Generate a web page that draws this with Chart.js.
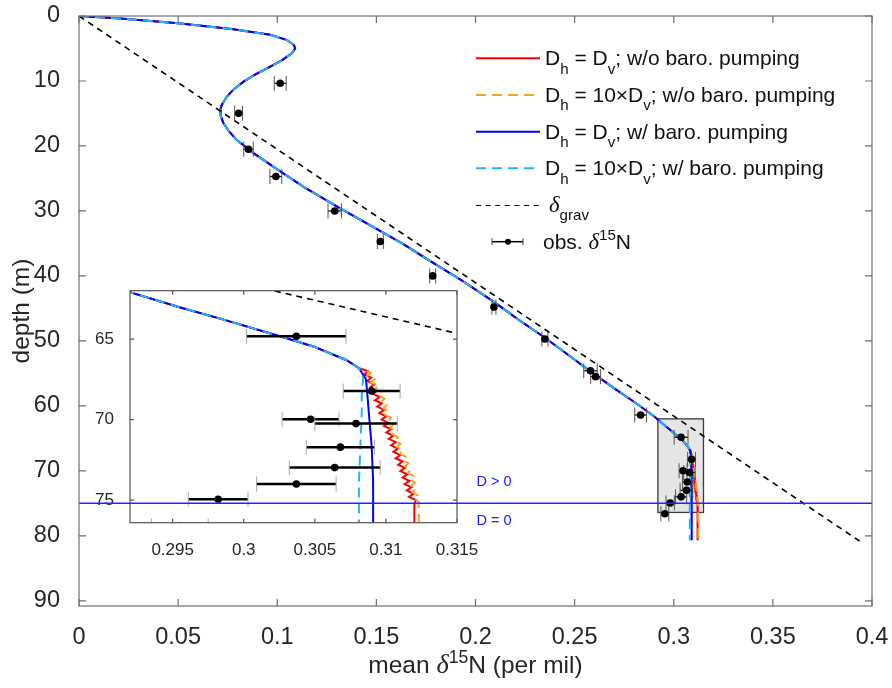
<!DOCTYPE html>
<html>
<head>
<meta charset="utf-8">
<script src="https://cdn.jsdelivr.net/npm/chart.js@4/dist/chart.umd.min.js"></script>
<style>
  html, body { margin: 0; padding: 0; background: #ffffff; }
  #wrap { position: relative; width: 892px; height: 688px; overflow: hidden; }
  #inset { position: absolute; left: 88px; top: 280px; z-index: 1; }
  #main { position: absolute; left: 0; top: 0; z-index: 2; }
</style>
</head>
<body>
<div id="wrap">
  <canvas id="inset" width="400" height="280"></canvas>
  <canvas id="main" width="892" height="688"></canvas>
</div>
<script>
// ---- axes ----
const mainXRange = [0, 0.4];
const mainDepthRange = [0, 90.8];
const mainXTicks = [0, 0.05, 0.1, 0.15, 0.2, 0.25, 0.3, 0.35, 0.4];
const mainXTickLabels = ['0', '0.05', '0.1', '0.15', '0.2', '0.25', '0.3', '0.35', '0.4'];
const mainDepthTicks = [0, 10, 20, 30, 40, 50, 60, 70, 80, 90];

const insetXRange = [0.292, 0.315];
const insetDepthRange = [62, 76.4];
const insetXTicks = [0.295, 0.3, 0.305, 0.31, 0.315];
const insetXTickLabels = ['0.295', '0.3', '0.305', '0.31', '0.315'];
const insetDepthTicks = [65, 70, 75];

// ---- diffusive zone boundary ----
const boundaryDepth = 75;
const zoneLabels = ['D > 0', 'D = 0'];
const zoneLabelDepths = [71.7, 77.7];
const zoneLabelDelta = 0.2005;

// ---- gravitational enrichment [delta, depth] ----
const gravLine = [[0, 0], [0.3937, 80.8]];

// ---- modelled profiles [delta, depth]; all four runs share the upper part ----
const sharedProfile = [
  [0, 0], [0.021, 0.4], [0.05, 1.13], [0.077, 2.0], [0.0965, 2.9], [0.105, 3.7],
  [0.1085, 4.5], [0.109, 5.0], [0.1075, 5.7], [0.1025, 6.8], [0.0965, 7.8],
  [0.089, 9.0], [0.083, 10.1], [0.078, 11.3], [0.0746, 12.4], [0.072, 13.7],
  [0.0712, 14.5], [0.0716, 15.5], [0.0729, 16.5], [0.0755, 17.7], [0.0796, 19.1],
  [0.088, 21.1], [0.1, 23.6], [0.1133, 26.3], [0.13, 29.3], [0.1485, 32.5],
  [0.163, 35.0], [0.177, 37.7], [0.193, 40.7], [0.2093, 44.0], [0.222, 46.8],
  [0.2354, 49.6], [0.247, 52.2], [0.258, 54.7], [0.27, 57.3], [0.281, 59.6],
  [0.2905, 61.7], [0.2956, 63.06], [0.2984, 63.75], [0.3026, 64.84],
  [0.3049, 65.46], [0.3072, 66.3], [0.3081, 66.8]
];
// Dh = Dv, no barometric pumping
const tailRed = [
  [0.30875, 67.0], [0.30846, 67.2], [0.30897, 67.4], [0.30867, 67.6], [0.30918, 67.8],
  [0.3089, 68.0], [0.3094, 68.2], [0.30908, 68.4], [0.30956, 68.6], [0.30923, 68.8],
  [0.30971, 69.0], [0.30939, 69.2], [0.30987, 69.4], [0.30954, 69.6], [0.31002, 69.8],
  [0.3097, 70.0], [0.31018, 70.2], [0.30987, 70.4], [0.31035, 70.6], [0.31003, 70.8],
  [0.31051, 71.0], [0.3102, 71.2], [0.31068, 71.4], [0.31036, 71.6], [0.31084, 71.8],
  [0.31053, 72.0], [0.31101, 72.2], [0.31069, 72.4], [0.31117, 72.6], [0.31086, 72.8],
  [0.31134, 73.0], [0.31102, 73.2], [0.3115, 73.4], [0.31117, 73.6], [0.31165, 73.8],
  [0.31132, 74.0], [0.3118, 74.2], [0.31147, 74.4], [0.31195, 74.6], [0.31162, 74.8],
  [0.3121, 75.0], [0.312, 75.3], [0.312, 80.7]
];
// Dh = 10 x Dv, no barometric pumping
const tailOrange = [
  [0.30894, 67.1], [0.30869, 67.3], [0.30921, 67.5], [0.30897, 67.7], [0.30949, 67.9],
  [0.30925, 68.1], [0.30974, 68.3], [0.3095, 68.5], [0.3099, 68.7], [0.30966, 68.9],
  [0.31005, 69.1], [0.30982, 69.3], [0.31021, 69.5], [0.30997, 69.7], [0.31036, 69.9],
  [0.31013, 70.1], [0.31052, 70.3], [0.3103, 70.5], [0.31069, 70.7], [0.31046, 70.9],
  [0.31085, 71.1], [0.31063, 71.3], [0.31102, 71.5], [0.31079, 71.7], [0.31119, 71.9],
  [0.31098, 72.1], [0.31138, 72.3], [0.31117, 72.5], [0.31157, 72.7], [0.31136, 72.9],
  [0.31176, 73.1], [0.31155, 73.3], [0.31193, 73.5], [0.31168, 73.7], [0.31203, 73.9],
  [0.31178, 74.1], [0.31213, 74.3], [0.31188, 74.5], [0.31223, 74.7], [0.31198, 74.9],
  [0.3123, 75.1], [0.3123, 75.4], [0.3124, 80.7]
];
// Dh = Dv, with barometric pumping
const tailBlue = [[0.3086, 67.5], [0.3087, 68.5], [0.3088, 69.6], [0.309, 71.7], [0.3091, 73.8], [0.3091, 80.7]];
// Dh = 10 x Dv, with barometric pumping
const tailCyan = [[0.3084, 67.4], [0.3083, 68.5], [0.3083, 69.6], [0.3082, 71.7], [0.3081, 74.0], [0.3081, 80.7]];

// ---- observations ----
const obsDelta = [0.1015, 0.0805, 0.0855, 0.0993, 0.129, 0.152, 0.1784, 0.2093, 0.235, 0.258, 0.2606,
  0.2833, 0.3037, 0.309, 0.3047, 0.3079, 0.3068, 0.3064, 0.3037, 0.2982, 0.2955];
const obsDepth = [10.36, 14.97, 20.5, 24.7, 30.0, 34.7, 40.0, 44.8, 49.7, 54.6, 55.5,
  61.4, 64.83, 68.23, 69.98, 70.25, 71.71, 72.98, 74.0, 74.94, 76.6];
const obsErr = [0.003, 0.002, 0.0024, 0.003, 0.0034, 0.0015, 0.0015, 0.001, 0.0015, 0.0034, 0.0025,
  0.003, 0.0035, 0.002, 0.002, 0.0029, 0.0024, 0.0032, 0.0028, 0.0021, 0.002];

// ---- colours ----
const C_RED = '#ff0000', C_ORANGE = '#eea623', C_BLUE = '#0000ff', C_CYAN = '#22b4f4';
const SANS = '"Liberation Sans", Arial, Helvetica, sans-serif';
const SERIF = '"Liberation Serif", "Times New Roman", serif';
const TXT = '#262626';

const pts = arr => arr.map(p => ({ x: p[0], y: p[1] }));

function lineSet(data, color, width, dash, order) {
  return { data: pts(data), borderColor: color, backgroundColor: color, borderWidth: width,
    borderDash: dash, showLine: true, pointRadius: 0, pointHoverRadius: 0, fill: false,
    tension: 0, order: order, clip: 0 };
}

function buildDatasets(withBoundary) {
  const sets = [
    lineSet(gravLine, '#000000', 1.6, [6, 5], 2),
    lineSet(sharedProfile.concat(tailRed), C_RED, 2, [], 6),
    lineSet(sharedProfile.concat(tailOrange), C_ORANGE, 2, [10, 6], 5),
    lineSet(sharedProfile.concat(tailBlue), C_BLUE, 2, [], 4),
    lineSet(sharedProfile.concat(tailCyan), C_CYAN, 2, [10, 6], 3),
    { data: obsDelta.map((v, i) => ({ x: v, y: obsDepth[i] })), showLine: false,
      pointRadius: 3.8, pointHoverRadius: 3.8, pointBackgroundColor: '#000', pointBorderWidth: 0,
      borderColor: '#000', order: 1, clip: 0 }
  ];
  if (withBoundary) {
    sets.push(lineSet([[mainXRange[0], boundaryDepth], [mainXRange[1], boundaryDepth]], '#2323ff', 1.5, [], 0));
  }
  return sets;
}

// axis box with inward ticks on all four sides
function framePlugin(tickLen, color, lw) {
  return {
    id: 'frame',
    afterDatasetsDraw(chart) {
      const { ctx, chartArea: a, scales: { x, y } } = chart;
      ctx.save();
      ctx.strokeStyle = color;
      ctx.lineWidth = lw;
      ctx.strokeRect(a.left, a.top, a.right - a.left, a.bottom - a.top);
      ctx.beginPath();
      x.ticks.forEach(t => {
        const px = x.getPixelForValue(t.value);
        ctx.moveTo(px, a.bottom); ctx.lineTo(px, a.bottom - tickLen);
        ctx.moveTo(px, a.top); ctx.lineTo(px, a.top + tickLen);
      });
      y.ticks.forEach(t => {
        const py = y.getPixelForValue(t.value);
        ctx.moveTo(a.left, py); ctx.lineTo(a.left + tickLen, py);
        ctx.moveTo(a.right, py); ctx.lineTo(a.right - tickLen, py);
      });
      ctx.stroke();
      ctx.restore();
    }
  };
}

// horizontal error bars under the observation markers
function errorBarPlugin(index, barColor, barWidth, capColor, capHalf) {
  return {
    id: 'errbars',
    beforeDatasetDraw(chart, args) {
      if (args.index !== index) return;
      const { ctx, chartArea: a, scales: { x, y } } = chart;
      ctx.save();
      ctx.beginPath();
      ctx.rect(a.left, a.top, a.right - a.left, a.bottom - a.top);
      ctx.clip();
      obsDelta.forEach((v, i) => {
        const py = y.getPixelForValue(obsDepth[i]);
        const x0 = x.getPixelForValue(v - obsErr[i]);
        const x1 = x.getPixelForValue(v + obsErr[i]);
        ctx.strokeStyle = barColor; ctx.lineWidth = barWidth;
        ctx.beginPath(); ctx.moveTo(x0, py); ctx.lineTo(x1, py); ctx.stroke();
        ctx.strokeStyle = capColor; ctx.lineWidth = 1;
        ctx.beginPath();
        ctx.moveTo(x0, py - capHalf); ctx.lineTo(x0, py + capHalf);
        ctx.moveTo(x1, py - capHalf); ctx.lineTo(x1, py + capHalf);
        ctx.stroke();
      });
      ctx.restore();
    }
  };
}

// text with sub/superscripts and an italic delta
function partFont(style, size) {
  if (style === 'sub' || style === 'sup') return (size * 0.72) + 'px ' + SANS;
  if (style === 'd') return 'italic ' + (size * 1.08) + 'px ' + SERIF;
  return size + 'px ' + SANS;
}
function richWidth(ctx, parts, size) {
  let w = 0;
  parts.forEach(p => { ctx.font = partFont(p[1], size); w += ctx.measureText(p[0]).width; });
  return w;
}
function drawRich(ctx, x, y, parts, size) {
  let cx = x;
  ctx.textBaseline = 'alphabetic';
  ctx.textAlign = 'left';
  parts.forEach(p => {
    const style = p[1];
    let dy = 0;
    if (style === 'sub') dy = size * 0.4;
    if (style === 'sup') dy = -size * 0.42;
    ctx.font = partFont(style, size);
    ctx.fillText(p[0], cx, y + dy);
    cx += ctx.measureText(p[0]).width;
  });
}

const legendRows = [
  { color: C_RED, dash: [], width: 2, text: [['D', 'n'], ['h', 'sub'], [' = D', 'n'], ['v', 'sub'], ['; w/o baro. pumping', 'n']] },
  { color: C_ORANGE, dash: [10, 6], width: 2, text: [['D', 'n'], ['h', 'sub'], [' = 10\u00D7D', 'n'], ['v', 'sub'], ['; w/o baro. pumping', 'n']] },
  { color: C_BLUE, dash: [], width: 2, text: [['D', 'n'], ['h', 'sub'], [' = D', 'n'], ['v', 'sub'], ['; w/ baro. pumping', 'n']] },
  { color: C_CYAN, dash: [10, 6], width: 2, text: [['D', 'n'], ['h', 'sub'], [' = 10\u00D7D', 'n'], ['v', 'sub'], ['; w/ baro. pumping', 'n']] },
  { color: '#000', dash: [5, 4.6], width: 1.2, text: [['\u03B4', 'd'], ['grav', 'sub']] },
  { obs: true, text: [['obs. ', 'n'], ['\u03B4', 'd'], ['15', 'sup'], ['N', 'n']] }
];

const mainDecor = {
  id: 'mainDecor',
  beforeDatasetsDraw(chart) {
    // shaded frame marking the magnified region
    const { ctx, scales: { x, y } } = chart;
    const l = x.getPixelForValue(insetXRange[0]), r = x.getPixelForValue(insetXRange[1]);
    const t = y.getPixelForValue(insetDepthRange[0]), b = y.getPixelForValue(insetDepthRange[1]);
    ctx.save();
    ctx.fillStyle = '#e5e5e5';
    ctx.fillRect(l, t, r - l, b - t);
    ctx.strokeStyle = '#3a3a3a';
    ctx.lineWidth = 1.3;
    ctx.strokeRect(l, t, r - l, b - t);
    ctx.restore();
  },
  afterDraw(chart) {
    const { ctx, chartArea: a, scales: { x, y } } = chart;
    ctx.save();
    // zone labels
    ctx.fillStyle = '#1a1aff';
    ctx.font = '14.5px ' + SANS;
    ctx.textAlign = 'left';
    ctx.textBaseline = 'middle';
    zoneLabels.forEach((s, i) => ctx.fillText(s, x.getPixelForValue(zoneLabelDelta), y.getPixelForValue(zoneLabelDepths[i])));

    // axis titles
    ctx.fillStyle = TXT;
    const xt = [['mean ', 'n'], ['\u03B4', 'd'], ['15', 'sup'], ['N (per mil)', 'n']];
    const fs = 24.5;
    const w = richWidth(ctx, xt, fs);
    drawRich(ctx, (a.left + a.right) / 2 - w / 2, 673, xt, fs);
    ctx.save();
    ctx.translate(22.5, (a.top + a.bottom) / 2);
    ctx.rotate(-Math.PI / 2);
    ctx.font = fs + 'px ' + SANS;
    ctx.textAlign = 'center';
    ctx.textBaseline = 'middle';
    ctx.fillText('depth (m)', 0, 0);
    ctx.restore();

    // legend
    const lx0 = 476, lx1 = 540, tx = 545, rowY = [58.3, 95, 131.7, 168.3, 205.5, 241.7];
    const lf = 21;
    legendRows.forEach((row, i) => {
      const ly = rowY[i];
      if (row.obs) {
        ctx.strokeStyle = '#000'; ctx.lineWidth = 1.5;
        ctx.beginPath(); ctx.moveTo(492, ly); ctx.lineTo(523, ly); ctx.stroke();
        ctx.strokeStyle = '#444'; ctx.lineWidth = 1;
        ctx.beginPath(); ctx.moveTo(492, ly - 3.5); ctx.lineTo(492, ly + 3.5);
        ctx.moveTo(523, ly - 3.5); ctx.lineTo(523, ly + 3.5); ctx.stroke();
        ctx.fillStyle = '#000';
        ctx.beginPath(); ctx.arc(508, ly, 3, 0, Math.PI * 2); ctx.fill();
        ctx.fillStyle = '#111';
        drawRich(ctx, 543, ly + 7.5, row.text, lf);
      } else {
        ctx.strokeStyle = row.color; ctx.lineWidth = row.width;
        ctx.setLineDash(row.dash);
        ctx.beginPath(); ctx.moveTo(lx0, ly); ctx.lineTo(lx1, ly); ctx.stroke();
        ctx.setLineDash([]);
        ctx.fillStyle = '#111';
        if (i === 4) drawRich(ctx, tx + 4, ly + 6, row.text, lf);
        else drawRich(ctx, tx, ly + 7, row.text, lf);
      }
    });
    ctx.restore();
  }
};

const insetBackground = {
  id: 'insetBackground',
  beforeDraw(chart) {
    const { ctx, chartArea: a } = chart;
    ctx.save();
    ctx.fillStyle = '#ffffff';
    ctx.fillRect(a.left, a.top, a.right - a.left, a.bottom - a.top);
    ctx.restore();
  }
};

function axisOptions(range, ticks, labels, fontSize, padding, fit, reverse) {
  return {
    type: 'linear',
    min: range[0], max: range[1], reverse: !!reverse,
    grid: { display: false }, border: { display: false },
    afterBuildTicks: s => { s.ticks = ticks.map(v => ({ value: v })); },
    afterFit: fit,
    ticks: {
      autoSkip: false, maxRotation: 0, minRotation: 0, padding: padding,
      color: TXT, font: { family: SANS, size: fontSize },
      callback: (v, i) => labels[i]
    }
  };
}

const common = {
  animation: false, responsive: false, devicePixelRatio: 1, events: [],
  plugins: { legend: { display: false }, tooltip: { enabled: false }, title: { display: false } }
};

new Chart(document.getElementById('main'), {
  type: 'scatter',
  data: { datasets: buildDatasets(true) },
  options: Object.assign({}, common, {
    layout: { padding: { top: 16, right: 20, bottom: 0, left: 0 } },
    scales: {
      x: axisOptions(mainXRange, mainXTicks, mainXTickLabels, 23.5, 9,
        s => { s.height = 82; s.paddingLeft = 0; s.paddingRight = 0; }),
      y: axisOptions(mainDepthRange, mainDepthTicks, mainDepthTicks.map(String), 23.5, 11,
        s => { s.width = 79; s.paddingTop = 0; s.paddingBottom = 0; }, true)
    }
  }),
  plugins: [mainDecor, errorBarPlugin(5, '#000', 1.2, '#555', 7.5), framePlugin(7, '#6e6e6e', 1.2)]
});

new Chart(document.getElementById('inset'), {
  type: 'scatter',
  data: { datasets: buildDatasets(false) },
  options: Object.assign({}, common, {
    layout: { padding: { top: 10.7, right: 31, bottom: 0, left: 0 } },
    scales: {
      x: axisOptions(insetXRange, insetXTicks, insetXTickLabels, 17, 9,
        s => { s.height = 37.3; s.paddingLeft = 0; s.paddingRight = 0; }),
      y: axisOptions(insetDepthRange, insetDepthTicks, insetDepthTicks.map(String), 17, 8,
        s => { s.width = 42; s.paddingTop = 0; s.paddingBottom = 0; }, true)
    }
  }),
  plugins: [insetBackground, errorBarPlugin(5, '#000', 2.5, '#aaaaaa', 7.5), framePlugin(4, '#555555', 1.2)]
});
</script>
</body>
</html>
